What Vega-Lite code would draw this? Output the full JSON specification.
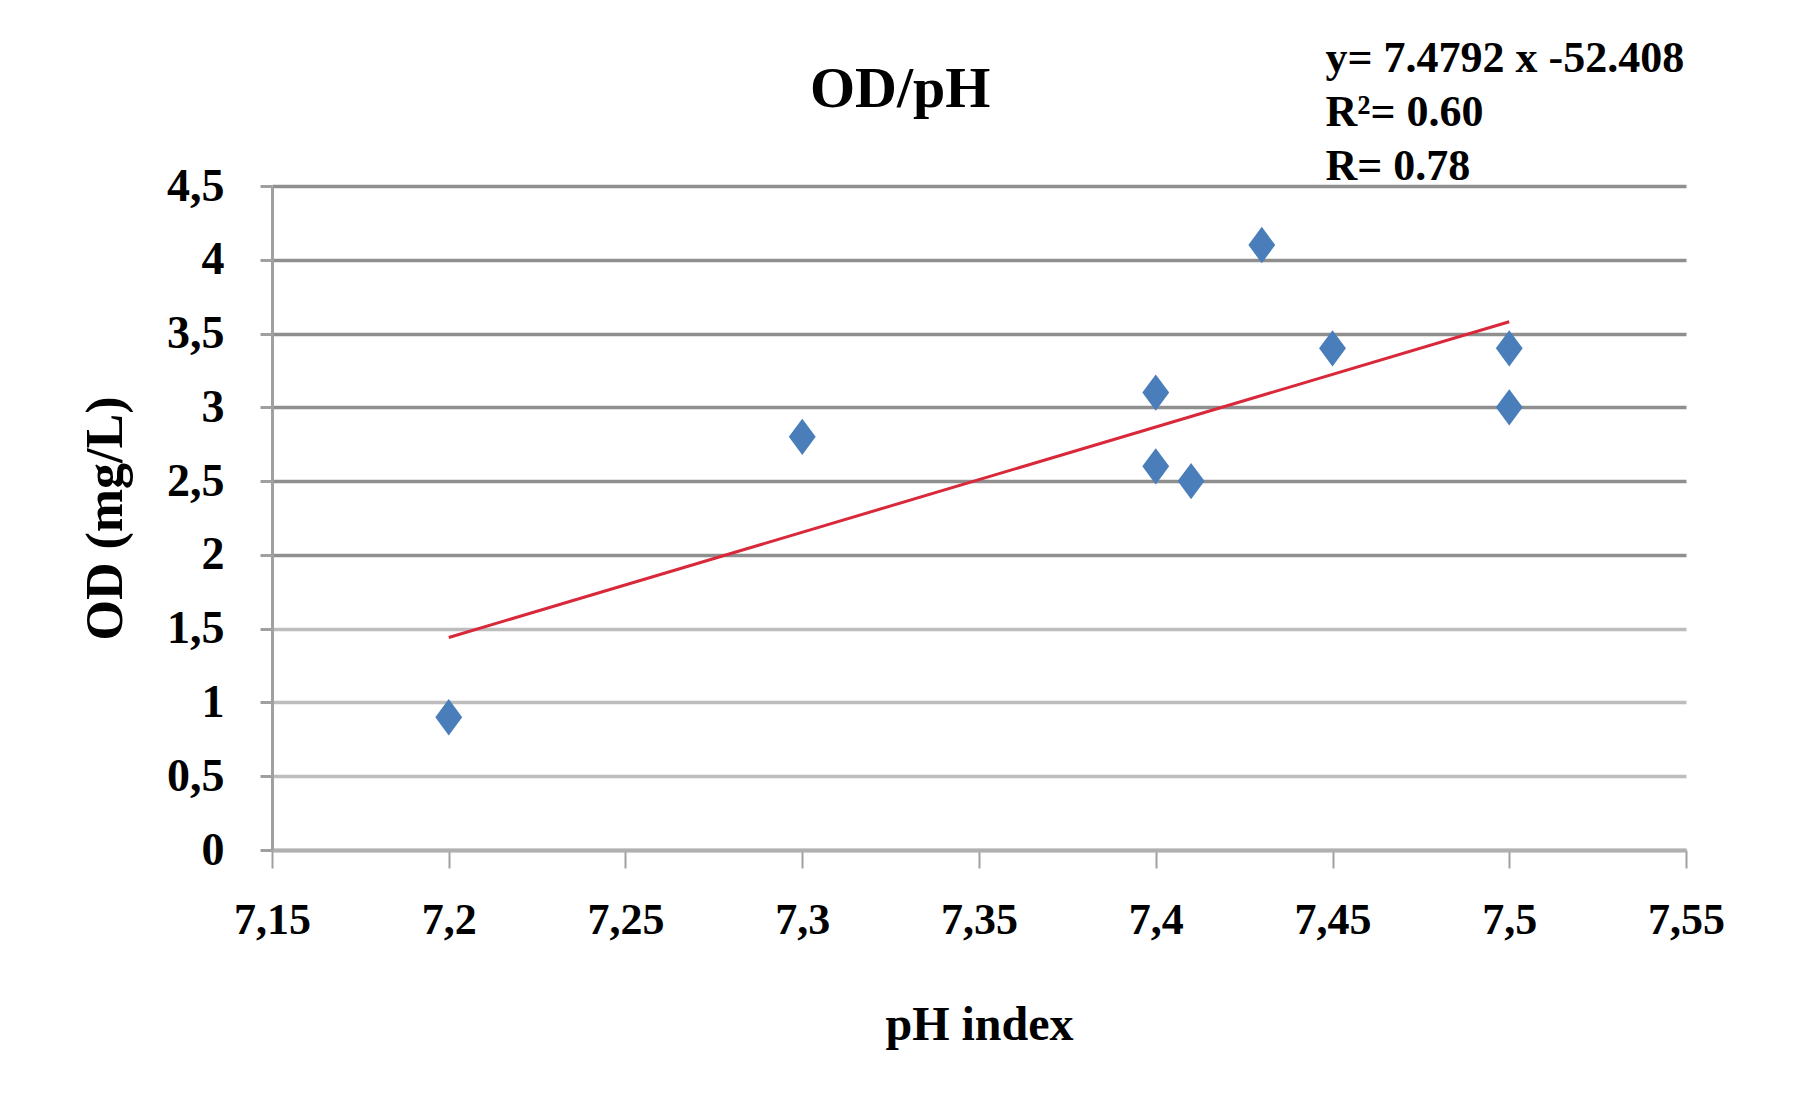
{
  "$schema": "https://vega.github.io/schema/vega-lite/v6.json",
  "autosize": {"type": "none"},
  "width": 1414,
  "height": 664,
  "padding": {"left": 272, "top": 186, "right": 113, "bottom": 270},
  "background": "white",
  "config": {
    "view": {"stroke": null},
    "font": "Liberation Serif"
  },
  "datasets": {
    "points": [
      {"pH": 7.2, "OD": 0.9},
      {"pH": 7.3, "OD": 2.8},
      {"pH": 7.4, "OD": 3.1},
      {"pH": 7.4, "OD": 2.6},
      {"pH": 7.41, "OD": 2.5},
      {"pH": 7.43, "OD": 4.1},
      {"pH": 7.45, "OD": 3.4},
      {"pH": 7.5, "OD": 3.4},
      {"pH": 7.5, "OD": 3.0}
    ],
    "trend": [
      {"pH": 7.2, "OD": 1.44},
      {"pH": 7.5, "OD": 3.58}
    ],
    "annotation": [
      {"lines": ["y= 7.4792 x -52.408", "R²= 0.60", "R= 0.78"]}
    ],
    "heading": [
      {"title": "OD/pH"}
    ]
  },
  "layer": [
    {
      "data": {"name": "trend"},
      "mark": {"type": "line", "color": "#d9283a", "strokeWidth": 3},
      "encoding": {
        "x": {
          "field": "pH", "type": "quantitative",
          "scale": {"domain": [7.15, 7.55], "nice": false, "zero": false},
          "axis": {
            "title": "pH index",
            "titleFont": "Liberation Serif",
            "titleFontSize": 48,
            "titleFontWeight": "bold",
            "titleColor": "black",
            "titlePadding": 59,
            "values": [7.15, 7.2, 7.25, 7.3, 7.35, 7.4, 7.45, 7.5, 7.55],
            "labelExpr": "replace(format(datum.value, '.2~f'), '.', ',')",
            "labelFont": "Liberation Serif",
            "labelFontSize": 44,
            "labelFontWeight": "bold",
            "labelColor": "black",
            "labelPadding": 30,
            "labelFlush": false,
            "grid": false,
            "domainColor": "#b0b0b0",
            "domainWidth": 4,
            "tickColor": "#a0a0a0",
            "tickWidth": 2,
            "tickSize": 18
          }
        },
        "y": {
          "field": "OD", "type": "quantitative",
          "scale": {"domain": [0, 4.5], "nice": false, "zero": true},
          "axis": {
            "title": "OD (mg/L)",
            "titleFont": "Liberation Serif",
            "titleFontSize": 52,
            "titleFontWeight": "bold",
            "titleColor": "black",
            "titlePadding": 34,
            "values": [0, 0.5, 1, 1.5, 2, 2.5, 3, 3.5, 4, 4.5],
            "labelExpr": "replace(format(datum.value, '.1~f'), '.', ',')",
            "labelFont": "Liberation Serif",
            "labelFontSize": 46,
            "labelFontWeight": "bold",
            "labelColor": "black",
            "labelPadding": 36,
            "labelFlush": false,
            "grid": true,
            "gridColor": {"condition": {"test": "datum.value >= 2", "value": "#8f8f8f"}, "value": "#bdbdbd"},
            "gridWidth": 3.5,
            "domainColor": "#a0a0a0",
            "domainWidth": 3,
            "tickColor": "#a0a0a0",
            "tickWidth": 3,
            "tickSize": 12
          }
        }
      }
    },
    {
      "data": {"name": "points"},
      "mark": {
        "type": "point",
        "shape": "M0,-1.15L0.85,0L0,1.15L-0.85,0Z",
        "filled": true,
        "opacity": 1,
        "color": "#4a7ebb",
        "size": 1000
      },
      "encoding": {
        "x": {"field": "pH", "type": "quantitative"},
        "y": {"field": "OD", "type": "quantitative"}
      }
    },
    {
      "data": {"name": "annotation"},
      "mark": {
        "type": "text",
        "font": "Liberation Serif",
        "fontSize": 44,
        "fontWeight": "bold",
        "color": "black",
        "align": "left",
        "baseline": "alphabetic",
        "lineHeight": 54,
        "clip": false
      },
      "encoding": {
        "x": {"datum": 7.448, "type": "quantitative"},
        "y": {"datum": 5.27, "type": "quantitative"},
        "text": {"field": "lines"}
      }
    },
    {
      "data": {"name": "heading"},
      "mark": {
        "type": "text",
        "font": "Liberation Serif",
        "fontSize": 58,
        "fontWeight": "bold",
        "color": "black",
        "align": "center",
        "baseline": "alphabetic",
        "clip": false
      },
      "encoding": {
        "x": {"datum": 7.3277, "type": "quantitative"},
        "y": {"datum": 5.035, "type": "quantitative"},
        "text": {"field": "title"}
      }
    }
  ]
}
